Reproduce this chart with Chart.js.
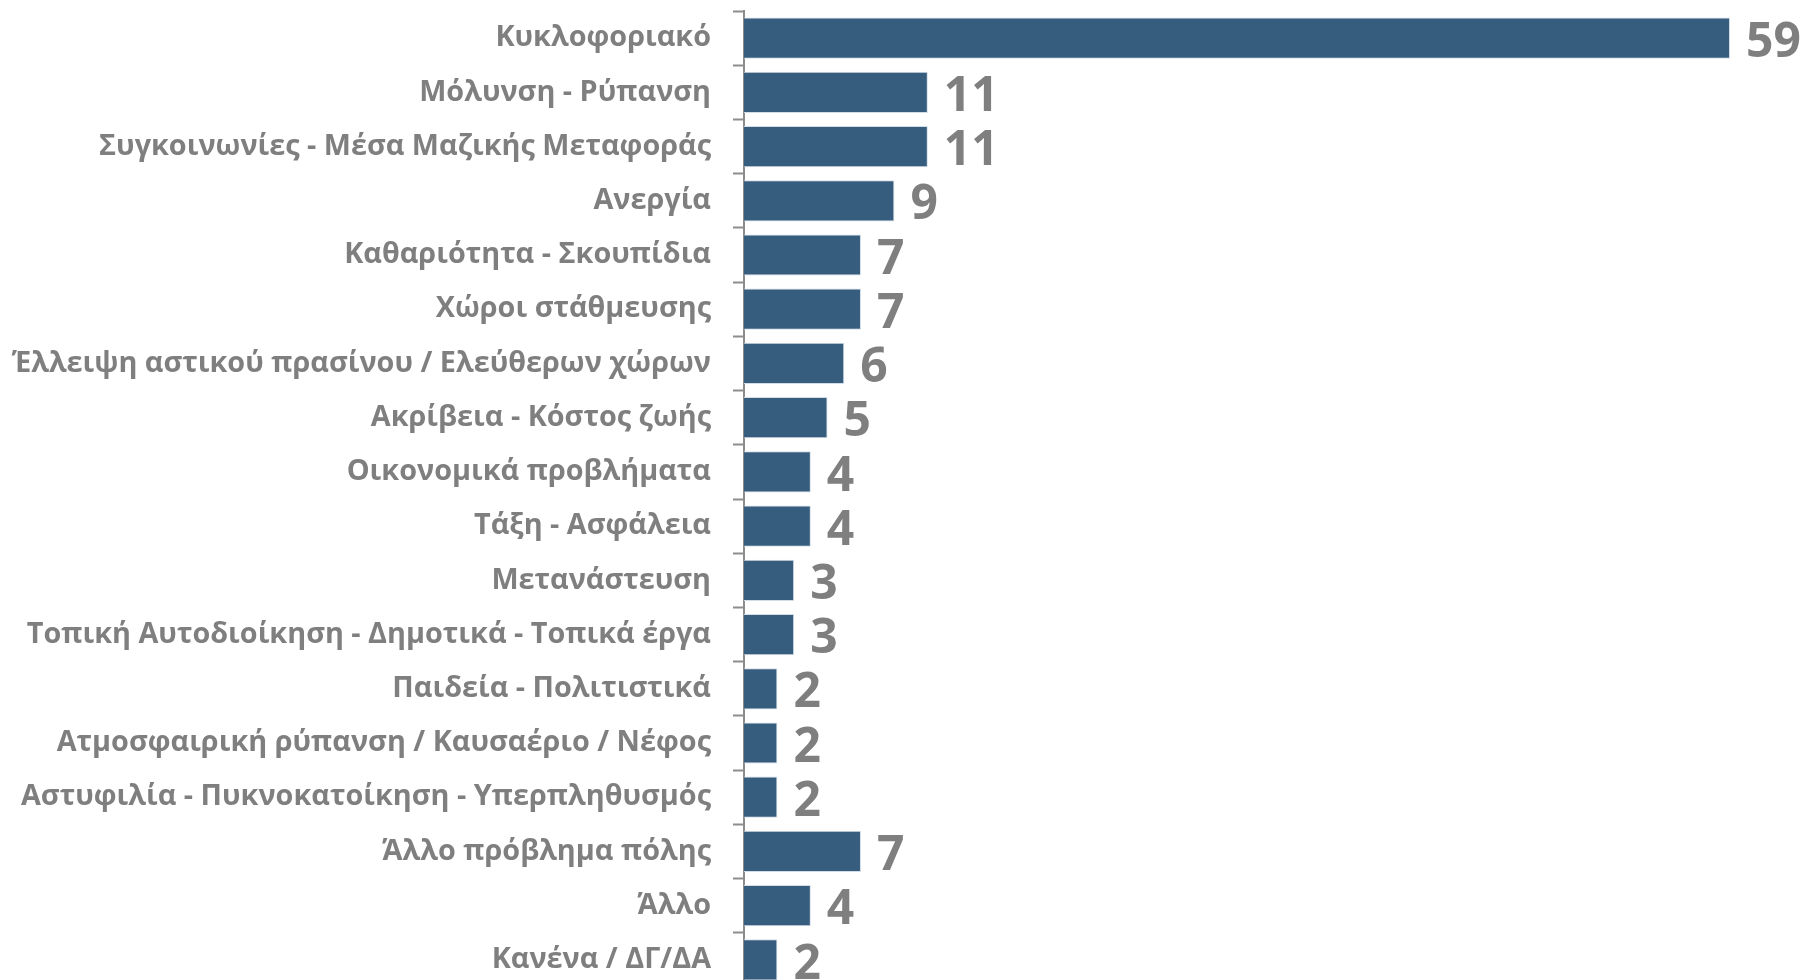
<!DOCTYPE html>
<html>
<head>
<meta charset="utf-8">
<script src="https://cdn.jsdelivr.net/npm/chart.js@4"></script>
<style>
  html, body { margin: 0; padding: 0; background: #fff; overflow: hidden; }
  .wrap { position: relative; width: 1804px; height: 1000px; }
</style>
</head>
<body>
<div class="wrap"><canvas id="chart"></canvas></div>
<script>
const categories = [
  "Κυκλοφοριακό",
  "Μόλυνση - Ρύπανση",
  "Συγκοινωνίες - Μέσα Μαζικής Μεταφοράς",
  "Ανεργία",
  "Καθαριότητα - Σκουπίδια",
  "Χώροι στάθμευσης",
  "Έλλειψη αστικού πρασίνου / Ελεύθερων χώρων",
  "Ακρίβεια - Κόστος ζωής",
  "Οικονομικά προβλήματα",
  "Τάξη - Ασφάλεια",
  "Μετανάστευση",
  "Τοπική Αυτοδιοίκηση - Δημοτικά - Τοπικά έργα",
  "Παιδεία - Πολιτιστικά",
  "Ατμοσφαιρική ρύπανση / Καυσαέριο / Νέφος",
  "Αστυφιλία - Πυκνοκατοίκηση - Υπερπληθυσμός",
  "Άλλο πρόβλημα πόλης",
  "Άλλο",
  "Κανένα / ΔΓ/ΔΑ",
];
const values = [59, 11, 11, 9, 7, 7, 6, 5, 4, 4, 3, 3, 2, 2, 2, 7, 4, 2];

const GREY = "#7f7f7f";
const FONT = "'Open Sans', 'Noto Sans', sans-serif";

// value labels at the end of each bar
const valueLabels = {
  id: "valueLabels",
  afterDatasetsDraw(chart) {
    const ctx = chart.ctx;
    const meta = chart.getDatasetMeta(0);
    ctx.save();
    ctx.fillStyle = GREY;
    ctx.font = `bold 48px ${FONT}`;
    ctx.textAlign = "left";
    ctx.textBaseline = "middle";
    meta.data.forEach((bar, i) => {
      ctx.fillText(String(values[i]), bar.x + 16, bar.y + 5);
    });
    ctx.restore();
  },
};

new Chart(document.getElementById("chart"), {
  type: "bar",
  data: {
    labels: categories,
    datasets: [
      {
        data: values,
        backgroundColor: "#365d7e",
        borderColor: "#d3dde7",
        borderWidth: 1,
        barPercentage: 0.76,
        categoryPercentage: 1,
      },
    ],
  },
  options: {
    indexAxis: "y",
    responsive: true,
    maintainAspectRatio: false,
    animation: false,
    layout: { padding: { top: 11, right: 74, bottom: 13, left: 0 } },
    plugins: { legend: { display: false }, tooltip: { enabled: false } },
    scales: {
      x: { display: false, min: 0, max: 59 },
      y: {
        afterFit(scale) {
          // fixed axis position, no extra label padding top/bottom
          scale.width = 744;
          scale.paddingTop = 0;
          scale.paddingBottom = 0;
        },
        border: { color: "#8c8c8c", width: 2 },
        grid: {
          drawOnChartArea: false,
          drawTicks: true,
          tickLength: 11,
          tickColor: "#8c8c8c",
          tickWidth: 2,
        },
        ticks: {
          padding: 22,
          color: GREY,
          font: { family: FONT, size: 28.8, weight: "bold" },
        },
      },
    },
  },
  plugins: [valueLabels],
});
</script>
</body>
</html>
